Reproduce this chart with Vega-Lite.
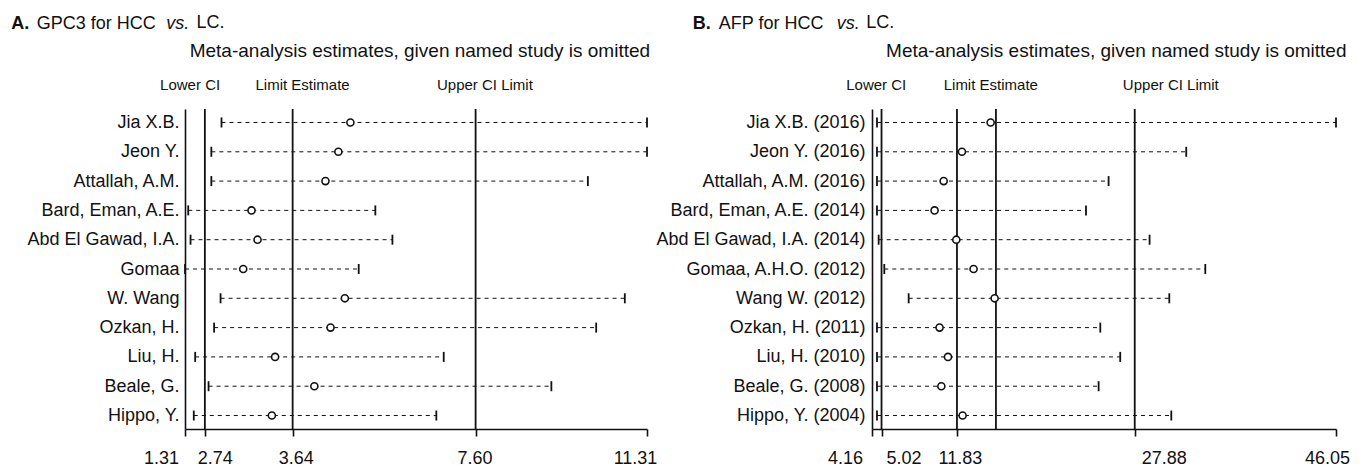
{
  "$schema": "https://vega.github.io/schema/vega-lite/v6.json",
  "background": "white",
  "padding": {"left": 10, "top": 14, "right": 5, "bottom": 5},
  "config": {
    "view": {"stroke": null},
    "font": "Liberation Sans",
    "axis": {"grid": false, "domainColor": "#111", "tickColor": "#111", "labelColor": "#111", "titleColor": "#111", "titleFontWeight": "normal"},
    "title": {"color": "#111"}
  },
  "datasets": {
    "gpc3": [
      {"study": "Jia X.B.", "lower": 2.10, "estimate": 4.89, "upper": 11.31},
      {"study": "Jeon Y.", "lower": 1.88, "estimate": 4.63, "upper": 11.31},
      {"study": "Attallah, A.M.", "lower": 1.88, "estimate": 4.35, "upper": 10.03},
      {"study": "Bard, Eman, A.E.", "lower": 1.38, "estimate": 2.75, "upper": 5.43},
      {"study": "Abd El Gawad, I.A.", "lower": 1.43, "estimate": 2.88, "upper": 5.80},
      {"study": "Gomaa", "lower": 1.31, "estimate": 2.57, "upper": 5.07},
      {"study": "W. Wang", "lower": 2.08, "estimate": 4.77, "upper": 10.83},
      {"study": "Ozkan, H.", "lower": 1.94, "estimate": 4.46, "upper": 10.21},
      {"study": "Liu, H.", "lower": 1.53, "estimate": 3.26, "upper": 6.91},
      {"study": "Beale, G.", "lower": 1.82, "estimate": 4.11, "upper": 9.24},
      {"study": "Hippo, Y.", "lower": 1.50, "estimate": 3.19, "upper": 6.75}
    ],
    "gpc3_lines": [{"value": 1.74}, {"value": 3.64}, {"value": 7.60}],
    "afp": [
      {"study": "Jia X.B. (2016)", "lower": 4.61, "estimate": 14.87, "upper": 46.05},
      {"study": "Jeon Y. (2016)", "lower": 4.61, "estimate": 12.28, "upper": 32.53},
      {"study": "Attallah, A.M. (2016)", "lower": 4.61, "estimate": 10.63, "upper": 25.52},
      {"study": "Bard, Eman, A.E. (2014)", "lower": 4.61, "estimate": 9.81, "upper": 23.48},
      {"study": "Abd El Gawad, I.A. (2014)", "lower": 4.76, "estimate": 11.77, "upper": 29.22},
      {"study": "Gomaa, A.H.O. (2012)", "lower": 5.27, "estimate": 13.33, "upper": 34.25},
      {"study": "Wang W. (2012)", "lower": 7.47, "estimate": 15.23, "upper": 31.00},
      {"study": "Ozkan, H. (2011)", "lower": 4.61, "estimate": 10.26, "upper": 24.77},
      {"study": "Liu, H. (2010)", "lower": 4.61, "estimate": 11.02, "upper": 26.57},
      {"study": "Beale, G. (2008)", "lower": 4.61, "estimate": 10.42, "upper": 24.62},
      {"study": "Hippo, Y. (2004)", "lower": 4.61, "estimate": 12.34, "upper": 31.18}
    ],
    "afp_lines": [{"value": 5.02}, {"value": 11.83}, {"value": 15.35}, {"value": 27.88}]
  },
  "spacing": 225,
  "bounds": "flush",
  "hconcat": [
    {
      "width": 462,
      "height": 320,
      "title": {"text": "LC.", "anchor": "start", "frame": "group", "dx": 11.5, "dy": 32, "fontSize": 18, "fontWeight": "normal", "font": "Liberation Sans", "baseline": "alphabetic", "offset": 0},
      "layer": [
        {
          "data": {"name": "gpc3_lines"},
          "mark": {"type": "rule", "strokeWidth": 1.8, "color": "#111"},
          "encoding": {
            "x": {
              "field": "value", "type": "quantitative",
              "scale": {"domain": [1.31, 11.31], "nice": false, "zero": false},
              "axis": {
                "orient": "bottom",
                "values": [1.31, 1.74, 3.64, 7.60, 11.31],
                "labelExpr": "datum.value == 1.74 ? '2.74' : format(datum.value, '.2f')",
                "labelOffset": {"condition": [{"test": "datum.value == 1.31", "value": -24}, {"test": "datum.value == 1.74", "value": 10}, {"test": "datum.value == 3.64", "value": 3}, {"test": "datum.value == 11.31", "value": -12}], "value": -1},
                "labelFlush": false, "labelOverlap": false, "labelBound": false,
                "labelFont": "Liberation Sans", "labelFontSize": 18, "labelPadding": 13,
                "tickSize": 7, "tickWidth": 1.6, "domainWidth": 1.6,
                "title": "GPC3 for HCC", "titleX": -148.8, "titleY": -400.7, "titleAlign": "left", "titleBaseline": "alphabetic",
                "titleFontSize": 18, "titleFont": "Liberation Sans", "titleAngle": 0
              }
            }
          }
        },
        {
          "data": {"name": "gpc3"},
          "mark": {"type": "rule", "strokeDash": [4, 4], "strokeWidth": 1, "color": "#111"},
          "encoding": {
            "y": {
              "field": "study", "type": "nominal", "sort": null,
              "scale": {"type": "point", "padding": 0.46},
              "axis": {
                "orient": "left", "ticks": false, "domainWidth": 1.6, "labelPadding": 6, "labelLimit": 0,
                "labelFont": "Liberation Sans", "labelFontSize": 18,
                "title": "A.", "titleFontWeight": "bold", "titleFont": "Liberation Sans", "titleFontSize": 18,
                "titleAngle": 0, "titleX": -174.3, "titleY": -80.7, "titleAlign": "left", "titleBaseline": "alphabetic"
              }
            },
            "x": {
              "field": "lower", "type": "quantitative",
              "axis": {
                "orient": "top", "values": [1.41, 3.845, 7.79],
                "labelExpr": "datum.value < 2 ? 'Lower CI' : datum.value < 5 ? 'Limit Estimate' : 'Upper CI Limit'",
                "domain": false, "ticks": false, "tickSize": 0, "labelPadding": 17,
                "labelFlush": false, "labelOverlap": false, "labelBound": false,
                "labelFont": "Liberation Sans", "labelFontSize": 15,
                "title": "Meta-analysis estimates, given named study is omitted",
                "titleX": 234.4, "titleY": -52.7, "titleAlign": "center", "titleBaseline": "alphabetic",
                "titleFont": "Liberation Sans", "titleFontSize": 19
              }
            },
            "x2": {"field": "upper"}
          }
        },
        {
          "data": {"name": "gpc3"},
          "transform": [{"fold": ["lower", "upper"], "as": ["end", "ci"]}],
          "mark": {"type": "tick", "thickness": 1.8, "size": 10, "color": "#111", "opacity": 1},
          "encoding": {
            "y": {"field": "study", "type": "nominal", "sort": null, "axis": null},
            "x": {"field": "ci", "type": "quantitative", "axis": null}
          }
        },
        {
          "data": {"name": "gpc3"},
          "mark": {"type": "point", "shape": "circle", "size": 50, "filled": true, "fill": "white", "stroke": "#111", "strokeWidth": 1.6, "opacity": 1},
          "encoding": {
            "y": {
              "field": "study", "type": "nominal", "sort": null,
              "axis": {
                "orient": "right", "domain": false, "ticks": false, "labels": false,
                "title": "vs.", "titleFontStyle": "italic", "titleFont": "Liberation Sans", "titleFontSize": 18,
                "titleAngle": 0, "titleX": -481.2, "titleY": -80.7, "titleAlign": "left", "titleBaseline": "alphabetic"
              }
            },
            "x": {"field": "estimate", "type": "quantitative", "axis": null}
          }
        }
      ]
    },
    {
      "width": 464,
      "height": 320,
      "title": {"text": "LC.", "anchor": "start", "frame": "group", "dx": -5.7, "dy": 32, "fontSize": 18, "fontWeight": "normal", "font": "Liberation Sans", "baseline": "alphabetic", "offset": 0},
      "layer": [
        {
          "data": {"name": "afp_lines"},
          "mark": {"type": "rule", "strokeWidth": 1.8, "color": "#111"},
          "encoding": {
            "x": {
              "field": "value", "type": "quantitative",
              "scale": {"domain": [4.16, 46.05], "nice": false, "zero": false},
              "axis": {
                "orient": "bottom",
                "values": [4.16, 5.02, 11.83, 27.88, 46.05],
                "labelExpr": "format(datum.value, '.2f')",
                "labelOffset": {"condition": [{"test": "datum.value == 4.16", "value": -27}, {"test": "datum.value == 5.02", "value": 22}, {"test": "datum.value == 11.83", "value": 3}, {"test": "datum.value == 27.88", "value": 29}], "value": -9},
                "labelFlush": false, "labelOverlap": false, "labelBound": false,
                "labelFont": "Liberation Sans", "labelFontSize": 18, "labelPadding": 13,
                "tickSize": 7, "tickWidth": 1.6, "domainWidth": 1.6,
                "title": "AFP for HCC", "titleX": -153.7, "titleY": -400.7, "titleAlign": "left", "titleBaseline": "alphabetic",
                "titleFontSize": 18, "titleFont": "Liberation Sans", "titleAngle": 0
              }
            }
          }
        },
        {
          "data": {"name": "afp"},
          "mark": {"type": "rule", "strokeDash": [4, 4], "strokeWidth": 1, "color": "#111"},
          "encoding": {
            "y": {
              "field": "study", "type": "nominal", "sort": null,
              "scale": {"type": "point", "padding": 0.46},
              "axis": {
                "orient": "left", "ticks": false, "domainWidth": 1.6, "labelPadding": 7, "labelLimit": 0,
                "labelFont": "Liberation Sans", "labelFontSize": 18,
                "title": "B.", "titleFontWeight": "bold", "titleFont": "Liberation Sans", "titleFontSize": 18,
                "titleAngle": 0, "titleX": -179.7, "titleY": -80.7, "titleAlign": "left", "titleBaseline": "alphabetic"
              }
            },
            "x": {
              "field": "lower", "type": "quantitative",
              "axis": {
                "orient": "top", "values": [4.5, 14.84, 31.09],
                "labelExpr": "datum.value < 6 ? 'Lower CI' : datum.value < 20 ? 'Limit Estimate' : 'Upper CI Limit'",
                "domain": false, "ticks": false, "tickSize": 0, "labelPadding": 17,
                "labelFlush": false, "labelOverlap": false, "labelBound": false,
                "labelFont": "Liberation Sans", "labelFontSize": 15,
                "title": "Meta-analysis estimates, given named study is omitted",
                "titleX": 243.8, "titleY": -52.7, "titleAlign": "center", "titleBaseline": "alphabetic",
                "titleFont": "Liberation Sans", "titleFontSize": 19
              }
            },
            "x2": {"field": "upper"}
          }
        },
        {
          "data": {"name": "afp"},
          "transform": [{"fold": ["lower", "upper"], "as": ["end", "ci"]}],
          "mark": {"type": "tick", "thickness": 1.8, "size": 10, "color": "#111", "opacity": 1},
          "encoding": {
            "y": {"field": "study", "type": "nominal", "sort": null, "axis": null},
            "x": {"field": "ci", "type": "quantitative", "axis": null}
          }
        },
        {
          "data": {"name": "afp"},
          "mark": {"type": "point", "shape": "circle", "size": 50, "filled": true, "fill": "white", "stroke": "#111", "strokeWidth": 1.6, "opacity": 1},
          "encoding": {
            "y": {
              "field": "study", "type": "nominal", "sort": null,
              "axis": {
                "orient": "right", "domain": false, "ticks": false, "labels": false,
                "title": "vs.", "titleFontStyle": "italic", "titleFont": "Liberation Sans", "titleFontSize": 18,
                "titleAngle": 0, "titleX": -499.7, "titleY": -80.7, "titleAlign": "left", "titleBaseline": "alphabetic"
              }
            },
            "x": {"field": "estimate", "type": "quantitative", "axis": null}
          }
        }
      ]
    }
  ]
}
